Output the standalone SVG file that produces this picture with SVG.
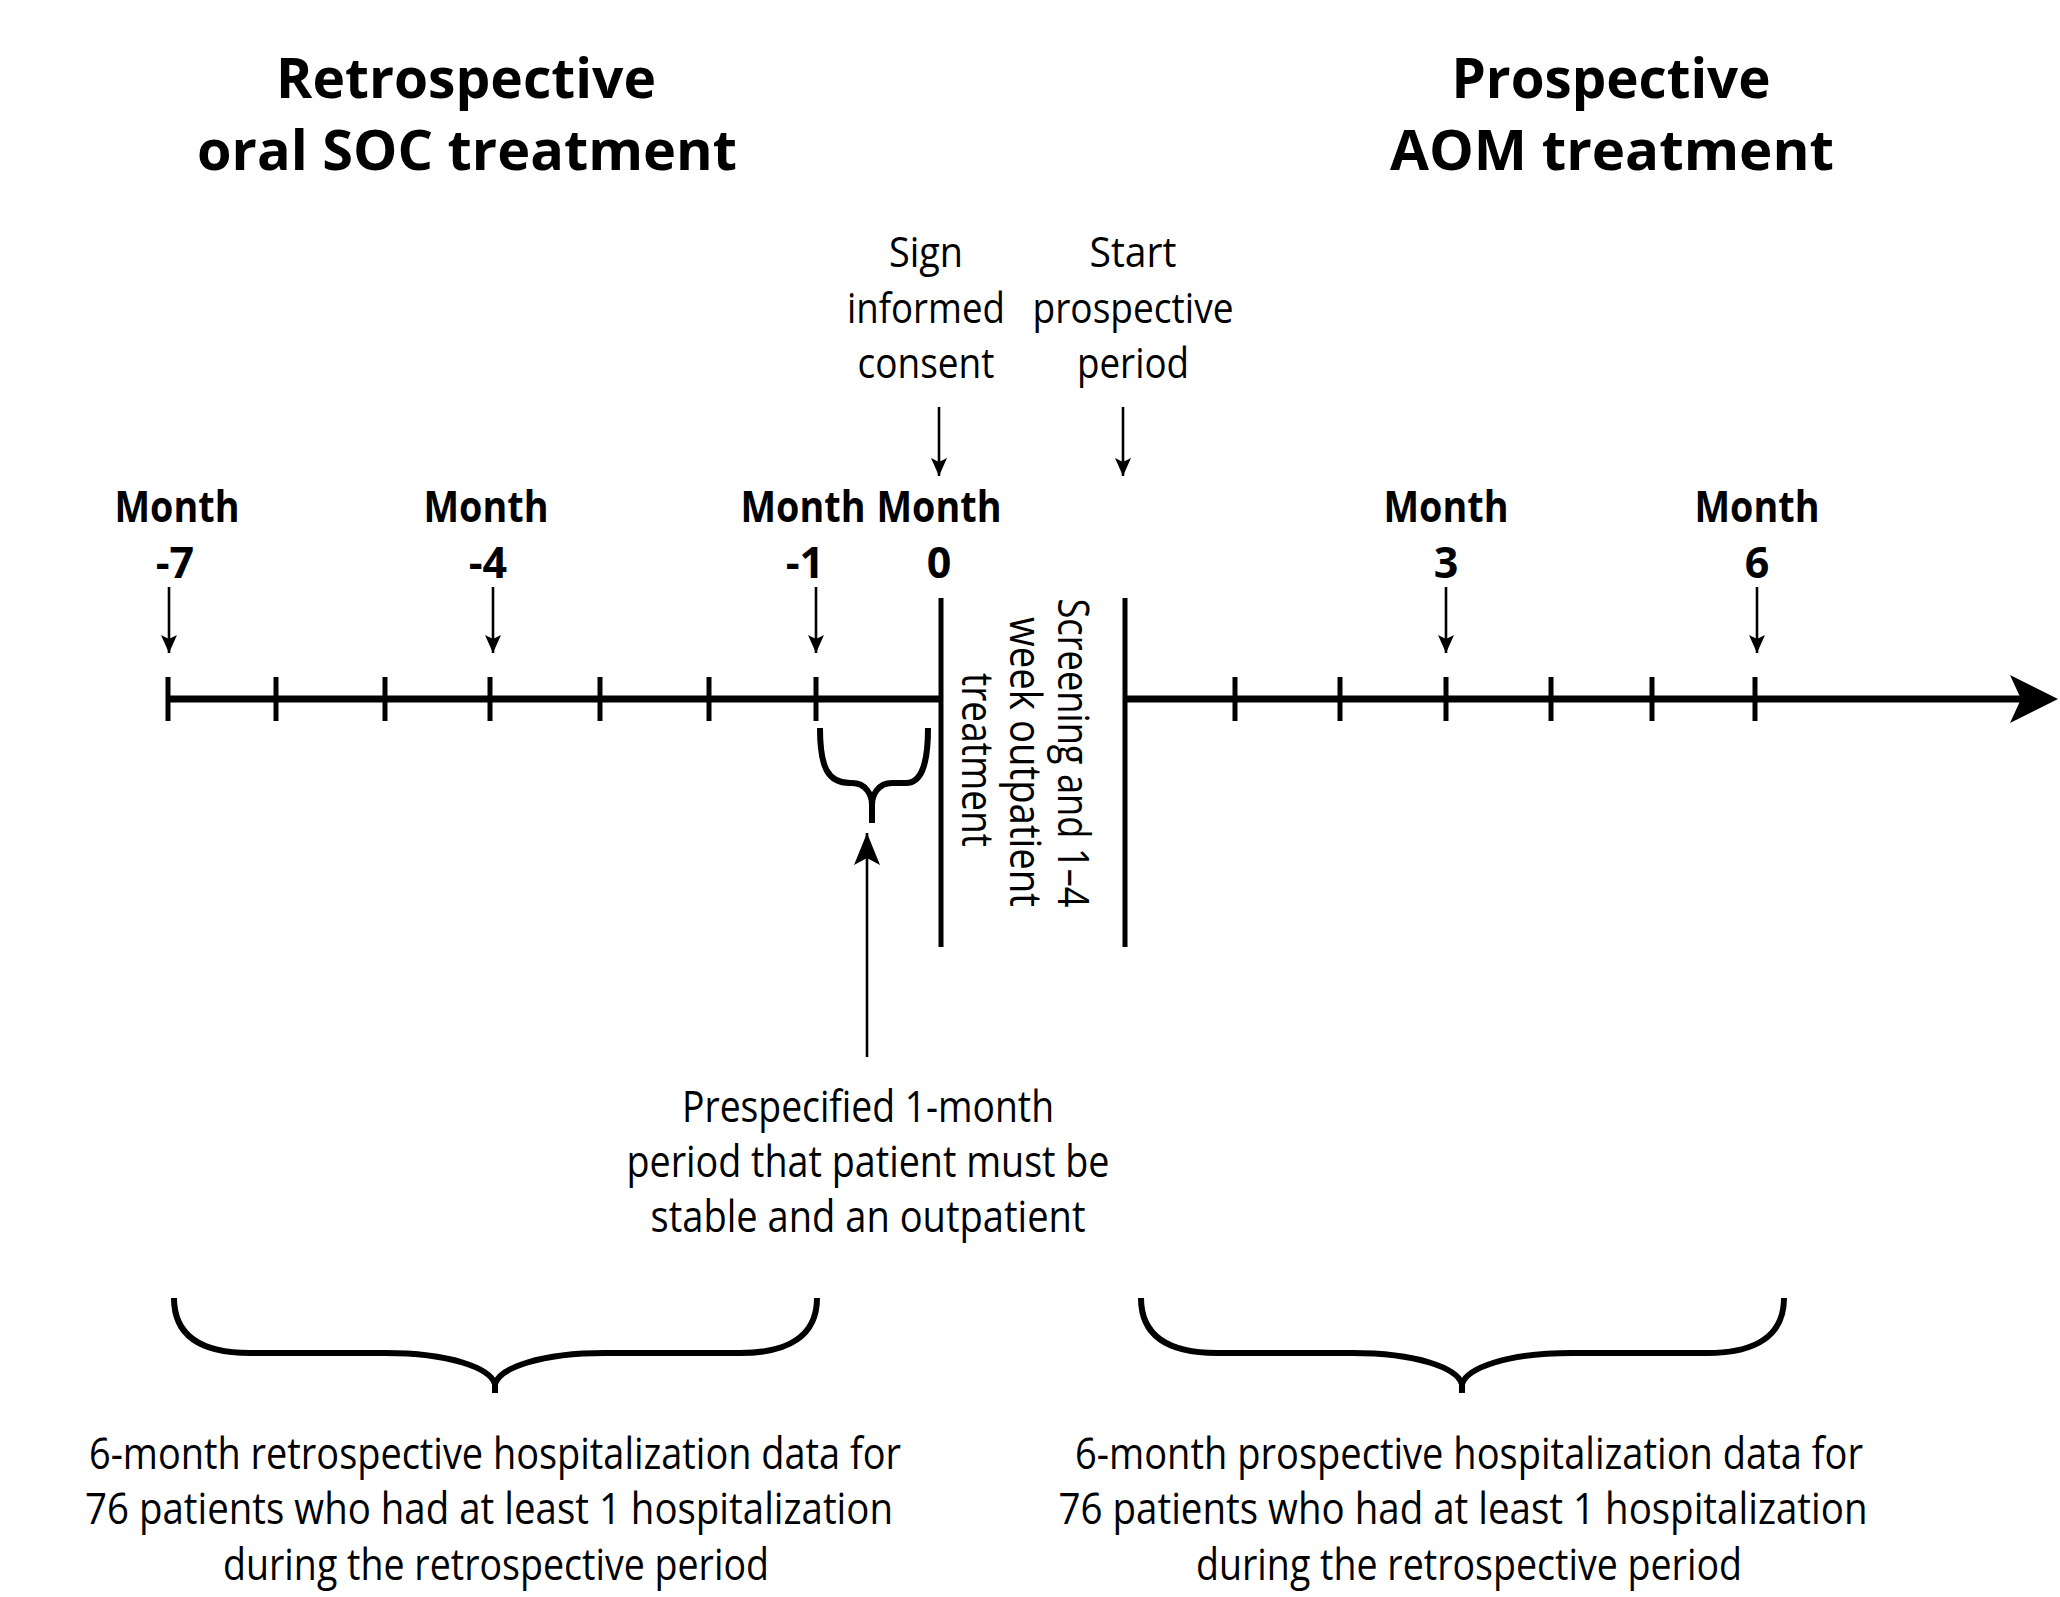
<svg xmlns="http://www.w3.org/2000/svg" width="2060" height="1597" viewBox="0 0 2060 1597">
<style>
text{font-family:"Open Sans","Noto Sans","Liberation Sans",sans-serif;fill:#000;text-anchor:middle}
.title{font-size:56px;font-weight:700}
.mon{font-size:43px;font-weight:700}
.body{font-size:44px}
.lbl{font-size:42px}
.thin{stroke:#000;stroke-width:2.6;fill:none}
.tick{stroke:#000;stroke-width:5}
.axis{stroke:#000;stroke-width:7}
.vline{stroke:#000;stroke-width:5}
.brace{stroke:#000;stroke-width:6;fill:none}
</style>
<defs>
<marker id="ah" markerUnits="userSpaceOnUse" viewBox="0 0 18 16" refX="18" refY="8" markerWidth="18" markerHeight="16" orient="auto">
<path d="M0,0 L18,8 L0,16 L4,8 z" fill="#000"/>
</marker>
<marker id="ahL" markerUnits="userSpaceOnUse" viewBox="0 0 32 26" refX="32" refY="13" markerWidth="32" markerHeight="26" orient="auto">
<path d="M0,0 L32,13 L0,26 L7,13 z" fill="#000"/>
</marker>
</defs>

<g id="title-retro">
<text class="title" x="466" y="98" textLength="380" lengthAdjust="spacingAndGlyphs">Retrospective</text>
<text class="title" x="467" y="170" textLength="540" lengthAdjust="spacingAndGlyphs">oral SOC treatment</text>
</g>
<g id="title-prosp">
<text class="title" x="1611" y="98" textLength="319" lengthAdjust="spacingAndGlyphs">Prospective</text>
<text class="title" x="1612" y="170" textLength="444" lengthAdjust="spacingAndGlyphs">AOM treatment</text>
</g>

<g id="sign-consent">
<text class="lbl" x="926" y="267" textLength="74" lengthAdjust="spacingAndGlyphs">Sign</text>
<text class="lbl" x="926" y="323" textLength="158" lengthAdjust="spacingAndGlyphs">informed</text>
<text class="lbl" x="926" y="378" textLength="137" lengthAdjust="spacingAndGlyphs">consent</text>
</g>
<g id="start-prosp">
<text class="lbl" x="1133" y="267" textLength="87" lengthAdjust="spacingAndGlyphs">Start</text>
<text class="lbl" x="1133" y="323" textLength="201" lengthAdjust="spacingAndGlyphs">prospective</text>
<text class="lbl" x="1133" y="378" textLength="112" lengthAdjust="spacingAndGlyphs">period</text>
</g>

<g id="m-7"><text class="mon" x="177" y="522" textLength="125" lengthAdjust="spacingAndGlyphs">Month</text><text class="mon" x="175" y="578">-7</text></g>
<g id="m-4"><text class="mon" x="486" y="522" textLength="125" lengthAdjust="spacingAndGlyphs">Month</text><text class="mon" x="488" y="578">-4</text></g>
<g id="m-1"><text class="mon" x="803" y="522" textLength="125" lengthAdjust="spacingAndGlyphs">Month</text><text class="mon" x="805" y="578">-1</text></g>
<g id="m0"><text class="mon" x="939" y="522" textLength="125" lengthAdjust="spacingAndGlyphs">Month</text><text class="mon" x="939" y="578">0</text></g>
<g id="m3"><text class="mon" x="1446" y="522" textLength="125" lengthAdjust="spacingAndGlyphs">Month</text><text class="mon" x="1446" y="578">3</text></g>
<g id="m6"><text class="mon" x="1757" y="522" textLength="125" lengthAdjust="spacingAndGlyphs">Month</text><text class="mon" x="1757" y="578">6</text></g>

<g id="timeline">
<line class="axis" x1="168" y1="699" x2="941" y2="699"/>
<line class="axis" x1="1125" y1="699" x2="2025" y2="699"/>
<path d="M2058,699 L2010,675 L2021,699 L2010,723 z" fill="#000"/>
<line class="tick" x1="168" y1="677" x2="168" y2="721"/>
<line class="tick" x1="276" y1="677" x2="276" y2="721"/>
<line class="tick" x1="385" y1="677" x2="385" y2="721"/>
<line class="tick" x1="490" y1="677" x2="490" y2="721"/>
<line class="tick" x1="600" y1="677" x2="600" y2="721"/>
<line class="tick" x1="709" y1="677" x2="709" y2="721"/>
<line class="tick" x1="816" y1="677" x2="816" y2="721"/>
<line class="tick" x1="1235" y1="677" x2="1235" y2="721"/>
<line class="tick" x1="1340" y1="677" x2="1340" y2="721"/>
<line class="tick" x1="1446" y1="677" x2="1446" y2="721"/>
<line class="tick" x1="1551" y1="677" x2="1551" y2="721"/>
<line class="tick" x1="1652" y1="677" x2="1652" y2="721"/>
<line class="tick" x1="1755" y1="677" x2="1755" y2="721"/>
<line class="vline" x1="941" y1="598" x2="941" y2="947"/>
<line class="vline" x1="1125" y1="598" x2="1125" y2="947"/>
</g>

<g id="screening">
<text class="body" transform="translate(1058,753) rotate(90)" textLength="309" lengthAdjust="spacingAndGlyphs">Screening and 1–4</text>
<text class="body" transform="translate(1010,762) rotate(90)" textLength="290" lengthAdjust="spacingAndGlyphs">week outpatient</text>
<text class="body" transform="translate(962,760) rotate(90)" textLength="174" lengthAdjust="spacingAndGlyphs">treatment</text>
</g>

<g id="small-brace">
<path class="brace" d="M820,728 C820,768 828,783 850,783 L852,783 C866,783 872,795 872,805 L872,823 M872,805 C872,795 878,783 892,783 L906,783 C920,783 928,768 928,728"/>
</g>

<g id="prespecified">
<text class="body" x="868" y="1122" textLength="372" lengthAdjust="spacingAndGlyphs">Prespecified 1-month</text>
<text class="body" x="868" y="1177" textLength="483" lengthAdjust="spacingAndGlyphs">period that patient must be</text>
<text class="body" x="868" y="1232" textLength="435" lengthAdjust="spacingAndGlyphs">stable and an outpatient</text>
</g>

<g id="retro-brace">
<path class="brace" d="M174,1298 C174,1335 200,1353 250,1353 L385,1353 C450,1353 490,1368 495,1384 L495,1393 M495,1384 C500,1368 540,1353 605,1353 L740,1353 C790,1353 817,1335 817,1298"/>
</g>
<g id="prosp-brace">
<path class="brace" transform="translate(967,0)" d="M174,1298 C174,1335 200,1353 250,1353 L385,1353 C450,1353 490,1368 495,1384 L495,1393 M495,1384 C500,1368 540,1353 605,1353 L740,1353 C790,1353 817,1335 817,1298"/>
</g>

<g id="retro-data">
<text class="body" x="495" y="1469" textLength="812" lengthAdjust="spacingAndGlyphs">6-month retrospective hospitalization data for</text>
<text class="body" x="489" y="1524" textLength="808" lengthAdjust="spacingAndGlyphs">76 patients who had at least 1 hospitalization</text>
<text class="body" x="496" y="1580" textLength="546" lengthAdjust="spacingAndGlyphs">during the retrospective period</text>
</g>
<g id="prosp-data">
<text class="body" x="1469" y="1469" textLength="788" lengthAdjust="spacingAndGlyphs">6-month prospective hospitalization data for</text>
<text class="body" x="1463" y="1524" textLength="809" lengthAdjust="spacingAndGlyphs">76 patients who had at least 1 hospitalization</text>
<text class="body" x="1469" y="1580" textLength="546" lengthAdjust="spacingAndGlyphs">during the retrospective period</text>
</g>

<g id="connectors">
<line class="thin" x1="939" y1="407" x2="939" y2="476" marker-end="url(#ah)"/>
<line class="thin" x1="1123" y1="407" x2="1123" y2="476" marker-end="url(#ah)"/>
<line class="thin" x1="169" y1="587" x2="169" y2="653" marker-end="url(#ah)"/>
<line class="thin" x1="493" y1="587" x2="493" y2="653" marker-end="url(#ah)"/>
<line class="thin" x1="816" y1="587" x2="816" y2="653" marker-end="url(#ah)"/>
<line class="thin" x1="1446" y1="587" x2="1446" y2="653" marker-end="url(#ah)"/>
<line class="thin" x1="1757" y1="587" x2="1757" y2="653" marker-end="url(#ah)"/>
<line class="thin" x1="867" y1="1057" x2="867" y2="833" marker-end="url(#ahL)"/>
</g>
</svg>
